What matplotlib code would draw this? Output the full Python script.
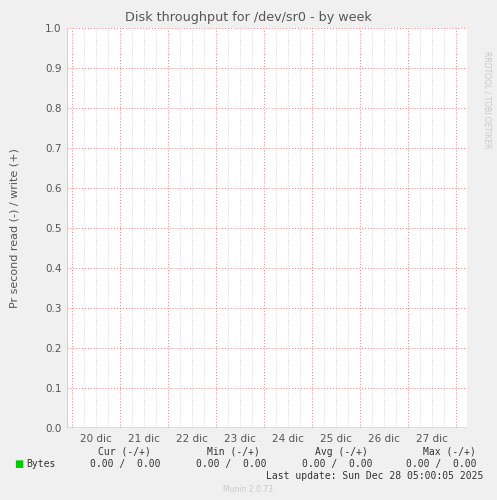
import matplotlib
matplotlib.use("Agg")
import matplotlib.pyplot as plt
import numpy as np

days = ["20 dic", "21 dic", "22 dic", "23 dic", "24 dic", "25 dic", "26 dic", "27 dic"]
yticks = [0.0, 0.1, 0.2, 0.3, 0.4, 0.5, 0.6, 0.7, 0.8, 0.9, 1.0]
read_vals = [0.0, 0.0]
write_vals = [0.0, 0.0]

W, H = 497, 500
fig = plt.figure(figsize=(W/100, H/100), dpi=100, facecolor="#f0f0f0")
ax = fig.add_axes([67/W, (500-428)/H, 400/W, 400/H], facecolor="white")
x0 = 5/48.0
ax.set_xlim(0, 400/48.0)
ax.set_ylim(0, 1.0)
for k in range(9):
    for m in range(1, 4):
        xm = x0 + k + m*0.25
        if xm < 400/48.0:
            ax.axvline(xm, color="#c8c8c8", lw=0.6, ls=(0, (1, 2)), zorder=1)
for k in range(9):
    ax.axvline(x0 + k, color="#f08080", lw=0.7, ls=(0, (1, 2)), zorder=2)
for y in yticks[1:]:
    ax.axhline(y, color="#f08080", lw=0.7, ls=(0, (1, 2)), zorder=2)
ax.plot([0, 400/48.0], [read_vals[0], write_vals[1]], color="#00cc00", lw=1, zorder=3)
ax.axhline(0, color="#555577", lw=0.8, zorder=4)
for s in ax.spines.values():
    s.set_visible(False)
ax.axvline(0, color="#ccccff", lw=0.8)
ax.set_xticks([x0 + k + 0.5 for k in range(8)])
ax.set_xticklabels(days)
ax.set_yticks(yticks)
ax.set_yticklabels([f"{v:.1f}" for v in yticks])
ax.tick_params(axis="both", length=0, labelsize=7.5, colors="#555555", pad=4)
ax.set_ylabel("Pr second read (-) / write (+)", fontsize=8, color="#555555", labelpad=18)
fig.text(0.5, 1-18/H, "Disk throughput for /dev/sr0 - by week", ha="center", va="center", fontsize=9.2, color="#555555")
fig.text(487/W, 1-100/H, "RRDTOOL / TOBI OETIKER", rotation=270, ha="center", va="center", fontsize=5.5, color="#c8c8c8")
mono = "DejaVu Sans Mono"
fs = 7
fig.text(14/W, 1-464/H, "■", color="#00cc00", fontsize=7, va="center", ha="left")
fig.text(26/W, 1-464/H, "Bytes", fontsize=fs, family=mono, va="center", color="#333333")
for xh, xv, lab, val in [(151, 160, "Cur (-/+)", "0.00 /  0.00"), (260, 267, "Min (-/+)", "0.00 /  0.00"),
                         (368, 372, "Avg (-/+)", "0.00 /  0.00"), (476, 477, "Max (-/+)", "0.00 /  0.00")]:
    fig.text(xh/W, 1-452/H, lab, fontsize=fs, family=mono, ha="right", va="center", color="#333333")
    fig.text(xv/W, 1-464/H, val, fontsize=fs, family=mono, ha="right", va="center", color="#333333")
fig.text(483/W, 1-476/H, "Last update: Sun Dec 28 05:00:05 2025", fontsize=fs, family=mono, ha="right", va="center", color="#333333")
fig.text(248/W, 1-489/H, "Munin 2.0.73", fontsize=5.5, ha="center", va="center", color="#c8c8c8")
fig.savefig("out.png", dpi=100, facecolor=fig.get_facecolor())
